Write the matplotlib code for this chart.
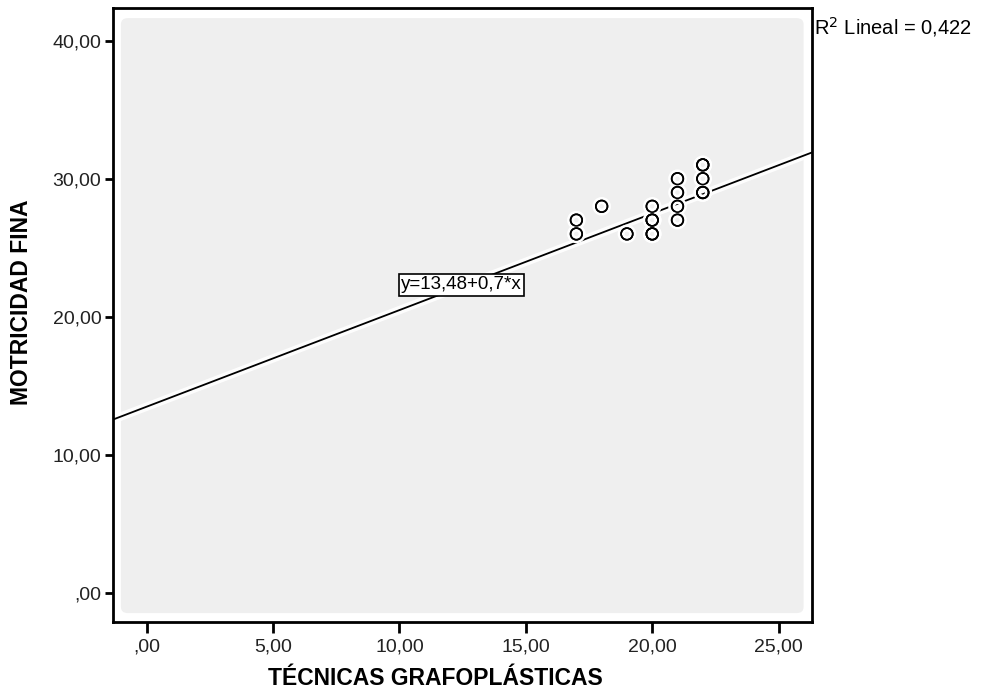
import matplotlib.pyplot as plt
import matplotlib.patheffects as pe
from matplotlib.patches import FancyBboxPatch
import numpy as np

# data
tecnicas = [17, 17, 18, 19, 20, 20, 20, 20, 20, 21, 21, 21, 21, 22, 22, 22, 22, 22]
motricidad = [27, 26, 28, 26, 28, 27, 27, 26, 26, 30, 29, 28, 27, 31, 31, 30, 29, 29]
intercepto = 13.48
pendiente = 0.7
r2 = "0,422"
xticks = [0, 5, 10, 15, 20, 25]
yticks = [0, 10, 20, 30, 40]
xlim = (-1.35, 26.32)
ylim = (-2.1, 42.35)


def coma(v):
    s = "%.2f" % v
    s = s.replace(".", ",")
    if s.startswith("0,"):
        s = s[1:]
    return s


plt.rcParams['font.family'] = ['Liberation Sans', 'DejaVu Sans']

fig = plt.figure(figsize=(9.81, 6.92), dpi=100)
ax = fig.add_axes([0.1147, 0.1016, 0.7130, 0.8864])
ax.set_xlim(*xlim)
ax.set_ylim(*ylim)
ax.set_facecolor("white")

# grey inner panel
panel = FancyBboxPatch((0.012, 0.014), 0.976, 0.970, boxstyle="round,pad=0,rounding_size=0.01",
                       transform=ax.transAxes, facecolor="#efefef", edgecolor="none", zorder=0)
ax.add_patch(panel)

halo = [pe.withStroke(linewidth=6, foreground="white", alpha=0.9)]

xs = np.array(xlim)
ax.plot(xs, intercepto + pendiente * xs, color="black", lw=1.3, zorder=2,
        path_effects=halo)

ax.scatter(tecnicas, motricidad, s=70, facecolors="none", edgecolors="black",
           linewidths=1.2, zorder=3,
           path_effects=[pe.withStroke(linewidth=5, foreground="white"), pe.Normal()])

ax.text(12.45, 22.3, "y=13,48+0,7*x", fontsize=13.5, ha="center", va="center", zorder=4,
        bbox=dict(boxstyle="square,pad=0.12", facecolor="white", edgecolor="black", lw=1.2))

ax.set_xticks(xticks)
ax.set_yticks(yticks)
ax.set_xticklabels([coma(v) for v in xticks])
ax.set_yticklabels([coma(v) for v in yticks])
ax.tick_params(axis="both", labelsize=14, width=2, color="black", labelcolor="#222222")
ax.tick_params(axis="x", length=8, direction="out", pad=4)
ax.tick_params(axis="y", length=6, direction="out", pad=2)

for sp in ax.spines.values():
    sp.set_linewidth(2)
    sp.set_color("black")

ax.set_xlabel("TÉCNICAS GRAFOPLÁSTICAS", fontsize=16.5, fontweight="bold")
ax.set_ylabel("MOTRICIDAD FINA", fontsize=16.5, fontweight="bold")
ax.xaxis.set_label_coords(0.462, -0.074)
ax.yaxis.set_label_coords(-0.114, 0.52)

fig.text(0.8297, 0.961, "R$^2$ Lineal = " + r2, fontsize=14.5, ha="left", va="center")

fig.savefig("out.png", dpi=100)
